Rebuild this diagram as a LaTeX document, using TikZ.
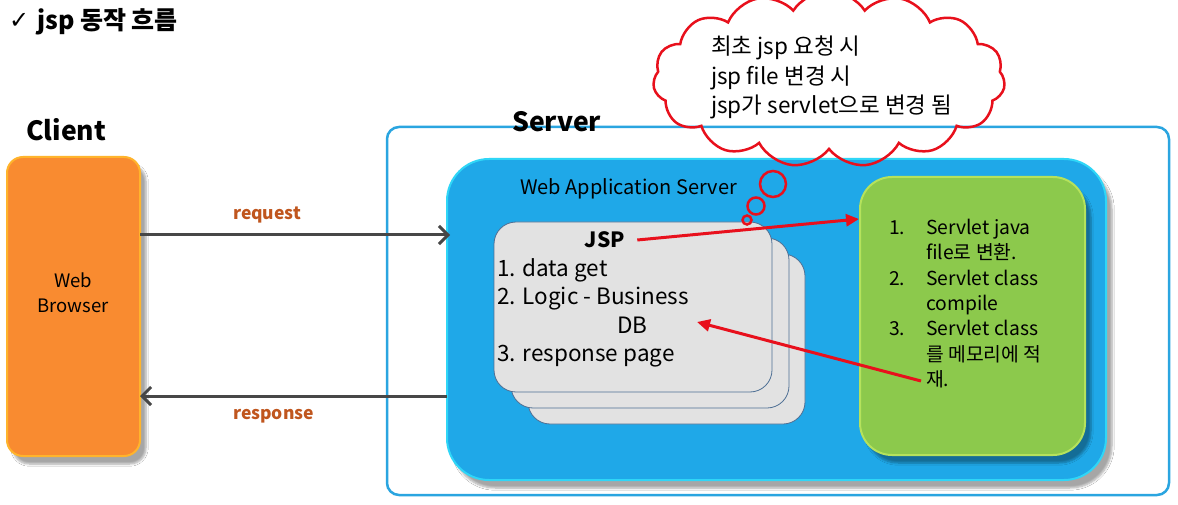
\documentclass[tikz,border=0pt]{standalone}
\usepackage{fontspec}
\setmainfont{Noto Sans CJK KR}
\newfontfamily\symfont{DejaVu Sans}
\usetikzlibrary{arrows.meta,shapes.symbols,shadows.blur}
\definecolor{orangefill}{HTML}{F98B30}
\definecolor{orangeedge}{HTML}{FFB42C}
\definecolor{wasfill}{HTML}{1FA8E8}
\definecolor{wasedge}{HTML}{2FD6F7}
\definecolor{srvedge}{HTML}{2AA5E0}
\definecolor{greenfill}{HTML}{8CC94C}
\definecolor{greenedge}{HTML}{B5E25C}
\definecolor{cardfill}{HTML}{E2E2E2}
\definecolor{cardedge}{HTML}{4E6F94}
\definecolor{arrgray}{HTML}{474747}
\definecolor{labbrown}{HTML}{C0561E}
\definecolor{redline}{HTML}{E8101C}
\tikzset{
  boxshadow/.style={blur shadow={shadow xshift=6pt,shadow yshift=-8pt,shadow blur steps=6,shadow opacity=35}},
  card/.style={draw=cardedge,line width=0.8pt,fill=cardfill,rounded corners=22pt},
  grayarrow/.style={draw=arrgray,line width=3pt,-{Straight Barb[length=9pt,width=18pt,line width=3pt]}},
  redarrow/.style={draw=redline,line width=3pt,-{Triangle[length=13pt,width=12pt]}},
  lab/.style={text=labbrown,font=\fontsize{17.5}{20}\selectfont\bfseries,inner sep=0pt},
  bubble/.style={draw=redline,line width=2.5pt,fill=none,circle,inner sep=0pt},
}
\begin{document}
\begin{tikzpicture}[x=1pt,y=-1pt]
\useasboundingbox (0,0) rectangle (1178,505);
\fill[white] (0,0) rectangle (1178,505);
% title
\node[anchor=west,inner sep=0pt] (check) at (9,21) {\symfont\fontsize{24}{26}\selectfont ✓};
\node[anchor=west,inner sep=0pt,font=\fontsize{25}{26}\selectfont\bfseries] (title) at (37,22) {jsp 동작 흐름};
% client
\node[anchor=west,inner sep=0pt,font=\fontsize{26.5}{30}\selectfont\bfseries] (clientlab) at (26,130) {Client};
\path[boxshadow,fill=orangefill,draw=orangeedge,line width=2pt,rounded corners=16pt] (7,157) rectangle (140,456);
\node[align=center,inner sep=0pt,font=\fontsize{18.5}{25}\selectfont] (browser) at (73,293) {Web\\Browser};
\coordinate (bro1) at (140,235);
\coordinate (bro2) at (140,396);
% server
\draw[srvedge,line width=2.5pt,rounded corners=12pt,fill=white] (387,127) rectangle (1169,495);
\node[anchor=west,inner sep=0pt,font=\fontsize{26.5}{30}\selectfont\bfseries] (serverlab) at (512,122) {Server};
\path[boxshadow,fill=wasfill,draw=wasedge,line width=2pt,rounded corners=42pt] (447,159) rectangle (1106,480);
\node[anchor=west,inner sep=0pt,font=\fontsize{20}{22}\selectfont] (waslab) at (520,189) {Web Application Server};
\coordinate (was1) at (450,235);
\coordinate (was2) at (447,396);
% JSP cards
\path[card] (528,254) rectangle (805,424);
\path[card] (511,238) rectangle (789,408);
\path[card] (494,222) rectangle (772,392);
\node[inner sep=0pt,font=\fontsize{21}{22}\selectfont\bfseries] (jsp) at (605,240) {JSP};
\node[anchor=north west,align=left,inner sep=0pt,font=\fontsize{22.5}{28.5}\selectfont] (jsptext) at (497,258) {1. data get\\2. Logic - Business\\\hspace*{120pt}DB\\3. response page};
\coordinate (db) at (697,322);
% green box
\path[boxshadow,fill=greenfill,draw=greenedge,line width=2pt,rounded corners=32pt] (860,177) rectangle (1085,455);
\node[anchor=north west,align=left,inner sep=0pt,font=\fontsize{19.3}{25.3}\selectfont] (greentext) at (889,219) {\makebox[37pt][l]{1.}Servlet java\\\hspace*{37pt}file로 변환.\\
\makebox[37pt][l]{2.}Servlet class\\\hspace*{37pt}compile\\
\makebox[37pt][l]{3.}Servlet class\\\hspace*{37pt}를 메모리에 적\\\hspace*{37pt}재.};
\coordinate (green) at (859,219);
\coordinate (load) at (921,381);
% cloud
\node[cloud,draw=redline,line width=2.5pt,cloud puffs=15,cloud puff arc=115,aspect=2.1,minimum width=352pt,minimum height=176pt,inner sep=0pt] (cloud) at (829,79) {};
\node[anchor=north west,align=left,inner sep=0pt,font=\fontsize{22.5}{29.5}\selectfont] (cloudtext) at (711,36) {최초 jsp 요청 시\\jsp file 변경 시\\jsp가 servlet으로 변경 됨};
\node[bubble,minimum size=26pt] (b1) at (773,184) {};
\node[bubble,minimum size=17pt] (b2) at (756,206) {};
\node[bubble,minimum size=9pt] (b3) at (747,220) {};
% connectors
\path[grayarrow] (bro1) -- node[lab,pos=0.41,above=10pt] (req) {request} (was1);
\path[grayarrow] (was2) -- node[lab,pos=0.565,below=12pt] (resp) {response} (bro2);
\path[redarrow] ([xshift=12pt]jsp.east) -- (green);
\path[redarrow] (load) -- (db);
\end{tikzpicture}
\end{document}
